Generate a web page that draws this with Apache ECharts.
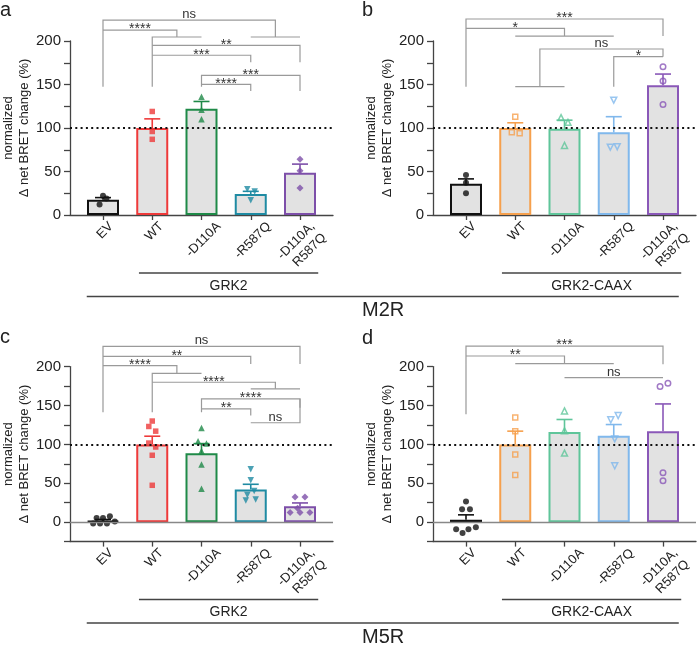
<!DOCTYPE html>
<html><head><meta charset="utf-8">
<script src="https://cdn.jsdelivr.net/npm/echarts@6/dist/echarts.min.js"></script>
<style>html,body{margin:0;padding:0;background:#fff}#c{width:700px;height:650px}</style>
</head><body><div id="c"></div>
<script>
// ---------------- data ----------------
const categories = ['EV', 'WT', '-D110A', '-R587Q', '-D110A,\nR587Q'];
const panelLetters = ['a', 'b', 'c', 'd'];
const groupLabels = ['GRK2', 'GRK2-CAAX'];
const receptorLabels = ['M2R', 'M5R'];
const yTickLabels = [0, 50, 100, 150, 200];
const yAxisName = 'normalized\nΔ net BRET change (%)';

// panel a: M2R, GRK2
const meanA = [17.5, 100, 122, 24, 48.5];
const semA = [2.5, 10.5, 8.5, 3.2, 10];
const ptsA = [
  [[0, 22], [0.07, 19], [-0.07, 12]],
  [[0, 119], [0, 96], [0, 87]],
  [[0, 136], [0, 121], [0, 110]],
  [[-0.07, 29.5], [0.08, 27], [0, 17]],
  [[0, 64], [0, 51], [0, 31]]
];
const sigA = [
  [0, 3.5, 224, 147.5, 204.6, 'ns'],
  [3, 4, 204.6, 204.6, 204.6, ''],
  [0, 1.5, 212.6, 212.6, 204.6, '****'],
  [1, 2, 204.6, 147.5, 204.6, ''],
  [1, 4, 195, 195, 175.5, '**'],
  [1, 3, 183.6, 183.6, 175.5, '***'],
  [2, 4, 160.6, 147.5, 142.5, '***'],
  [2, 3, 150.2, 150.2, 142.5, '****']
];

// panel b: M2R, GRK2-CAAX
const meanB = [36, 100, 99, 95, 149];
const semB = [5.5, 6, 10, 18, 13];
const ptsB = [
  [[0, 46], [0, 37], [0, 25]],
  [[0, 113], [-0.07, 95], [0.09, 94]],
  [[-0.07, 112], [0.07, 106.5], [0, 80]],
  [[0, 132], [-0.07, 78], [0.07, 78.5]],
  [[0, 170.5], [0, 154], [0, 127]]
];
const sigB = [
  [0, 4, 225.3, 147.5, 205.7, '***'],
  [0, 2, 214.6, 214.6, 205.7, '*'],
  [1, 3, 205.7, 205.7, 205.7, ''],
  [1.5, 4, 190.8, 147.5, 182, 'ns'],
  [1, 2, 147.5, 147.5, 147.5, ''],
  [3, 4, 182, 147.5, 182, '*']
];

// panel c: M5R, GRK2
const meanC = [1.5, 100, 88.5, 42, 20.5];
const semC = [2, 10.5, 12.5, 6.7, 4.2];
const ptsC = [
  [[0.14, 7.7], [-0.13, 5.5], [0, 5.5], [0.24, 1], [-0.2, -1.7], [-0.06, -1.7], [0.08, -1.7]],
  [[0, 130], [-0.07, 123], [0.07, 117], [-0.07, 101.7], [0.07, 96.6], [0, 86], [0, 47.4]],
  [[0, 121], [-0.07, 104], [0.1, 101], [0, 91.4], [0, 74], [0, 43]],
  [[0, 68], [0, 54], [0.07, 40], [-0.07, 35], [-0.1, 28], [0.1, 29]],
  [[-0.1, 32.5], [0.1, 32.5], [-0.05, 18], [-0.2, 12.5], [0, 12.5], [0.2, 12.5]]
];
const sigC = [
  [0, 4, 226, 141.4, 203.4, 'ns'],
  [0, 3, 213.2, 213.2, 203.4, '**'],
  [0, 1.5, 201.3, 201.3, 191.4, '****'],
  [1, 2, 191.4, 141.4, 191.4, ''],
  [1, 3.5, 179.9, 179.9, 171.4, '****'],
  [3, 4, 171.4, 171.4, 171.4, ''],
  [2, 4, 158.6, 141.4, 147, '****'],
  [2, 3, 145.7, 145.7, 137.2, '**'],
  [3, 4, 127.8, 127.8, 158.6, 'ns']
];

// panel d: M5R, GRK2-CAAX
const meanD = [3, 100, 116, 111, 117];
const semD = [6.4, 17, 16, 14.5, 35];
const ptsD = [
  [[0, 26.4], [-0.08, 16.7], [0.08, 16.7], [-0.2, -9], [0.05, -9], [0.2, -6.5], [-0.07, -14]],
  [[0, 134.6], [0, 117], [0, 87], [0, 60.6]],
  [[0, 143], [0, 117.4], [0, 88.8]],
  [[-0.06, 131.6], [0.09, 137], [0.02, 107], [0.02, 72.5]],
  [[-0.06, 174.4], [0.1, 178.6], [0, 63.6], [0, 53.3]]
];
const sigD = [
  [0, 4, 226.4, 138.8, 203, '***'],
  [0, 2, 213.6, 213.6, 203.8, '**'],
  [1, 3, 203.8, 203.8, 203.8, ''],
  [2, 4, 185.9, 185.9, 185.9, 'ns']
];

// ---------------- styles ----------------
const FONT = "'Liberation Sans', Arial, sans-serif";
const colorsGRK2 = ['#111111', '#ee3a3a', '#1f8a48', '#1f8ba3', '#7d4fa9'];
const colorsCAAX = ['#111111', '#f6a04d', '#5fc59a', '#80b8ec', '#8a58b8'];
const symFilled = [['circle', 0, 6], ['rect', 0, 5.5], ['triangle', 0, 6.5], ['triangle', 180, 6.5], ['diamond', 0, 7]];
const symHollow = [['circle', 0, 6], ['rect', 0, 5], ['triangle', 0, 6], ['triangle', 180, 6], ['circle', 0, 5.5]];
const BAR_FILL = '#e2e2e2';
const AX = '#444';
const LABEL_FS = 13, LABEL_LH = 16;

const panels = [
  { mean: meanA, sem: semA, pts: ptsA, sig: sigA, colors: colorsGRK2, hollow: false, ymin: 0, grid: { left: 70, top: 41, width: 263, height: 174 } },
  { mean: meanB, sem: semB, pts: ptsB, sig: sigB, colors: colorsCAAX, hollow: true, ymin: 0, grid: { left: 433, top: 41, width: 263, height: 174 } },
  { mean: meanC, sem: semC, pts: ptsC, sig: sigC, colors: colorsGRK2, hollow: false, ymin: -25, grid: { left: 70, top: 366.6, width: 263, height: 175 } },
  { mean: meanD, sem: semD, pts: ptsD, sig: sigD, colors: colorsCAAX, hollow: true, ymin: -25, grid: { left: 433, top: 366.6, width: 263, height: 175 } }
];

// width of each category label (longest line), for placing the 45° labels
const mctx = document.createElement('canvas').getContext('2d');
mctx.font = LABEL_FS + 'px ' + FONT;
const labelDims = categories.map(c => {
  const lines = c.split('\n');
  return { L: Math.max.apply(null, lines.map(t => mctx.measureText(t).width)), H: 9.5 + LABEL_LH * (lines.length - 1) };
});

const chart = echarts.init(document.getElementById('c'), null, { renderer: 'canvas' });

const grid = [], xAxis = [], yAxis = [], series = [];
const catIdx = categories.map((c, i) => i);

panels.forEach((p, i) => {
  grid.push(Object.assign({ containLabel: false, outerBoundsMode: 'none' }, p.grid));
  xAxis.push({
    gridIndex: i, type: 'value', min: -0.67, max: 4.67,
    axisLine: { show: true, onZero: false, lineStyle: { color: AX, width: 1.3 } },
    axisTick: { show: true, customValues: catIdx, length: 5, lineStyle: { color: AX, width: 1.3 } },
    axisLabel: { show: false },
    splitLine: { show: false }
  });
  yAxis.push({
    gridIndex: i, type: 'value', min: p.ymin, max: 200, interval: 25,
    axisLine: { show: true, onZero: false, lineStyle: { color: AX, width: 1.3 } },
    axisTick: { show: true, length: 6, lineStyle: { color: AX, width: 1.3 } },
    axisLabel: { formatter: v => yTickLabels.includes(v) ? String(v) : '', fontSize: 15, color: '#222', fontFamily: FONT, margin: 9 },
    splitLine: { show: false },
    name: yAxisName, nameLocation: 'middle', nameRotate: 90, nameGap: 30,
    nameTextStyle: { fontSize: 13, lineHeight: 16, color: '#222', fontFamily: FONT }
  });

  const mlData = [{ yAxis: 100, lineStyle: { type: [2, 3.3], color: '#111', width: 2 } }];
  if (p.ymin < 0) mlData.unshift({ yAxis: 0, lineStyle: { type: 'solid', color: '#888', width: 1.3 } });

  series.push({
    type: 'bar', xAxisIndex: i, yAxisIndex: i, barWidth: 32, z: 2,
    data: p.mean.map((v, k) => ({ value: [k, v], itemStyle: { color: BAR_FILL, borderColor: p.colors[k], borderWidth: 2 } })),
    markLine: { silent: true, symbol: 'none', label: { show: false }, data: mlData, z: 6 }
  });

  series.push({
    type: 'custom', xAxisIndex: i, yAxisIndex: i, z: 3,
    data: p.mean.map((v, k) => [k, v, p.sem[k]]),
    renderItem: (params, api) => {
      const x = api.value(0), m = api.value(1), s = api.value(2);
      const a = api.coord([x, m]), b = api.coord([x, m + s]);
      const col = p.colors[params.dataIndex];
      const st = { stroke: col, lineWidth: 1.6 };
      return { type: 'group', children: [
        { type: 'line', shape: { x1: a[0], y1: a[1], x2: b[0], y2: b[1] }, style: st },
        { type: 'line', shape: { x1: b[0] - 8, y1: b[1], x2: b[0] + 8, y2: b[1] }, style: st }
      ] };
    }
  });

  const sdata = [];
  p.pts.forEach((arr, k) => {
    const sy = (p.hollow ? symHollow : symFilled)[k];
    const col = p.colors[k];
    const hollow = p.hollow && k > 0;
    arr.forEach(pt => {
      sdata.push({
        value: [k + pt[0], pt[1]], symbol: sy[0], symbolRotate: sy[1], symbolSize: sy[2],
        itemStyle: hollow ? { color: 'rgba(255,255,255,0)', borderColor: col, borderWidth: 1.5 } : { color: col, borderWidth: 0 }
      });
    });
  });
  series.push({ type: 'scatter', xAxisIndex: i, yAxisIndex: i, z: 4, data: sdata, silent: true });

  // significance brackets
  series.push({
    type: 'custom', xAxisIndex: i, yAxisIndex: i, z: 5, clip: false, silent: true,
    data: p.sig.map(s => [s[0], s[2]]),
    renderItem: (params, api) => {
      const s = p.sig[params.dataIndex];
      const a = api.coord([s[0], s[2]]), b = api.coord([s[1], s[2]]);
      const a2 = api.coord([s[0], s[3]]), b2 = api.coord([s[1], s[4]]);
      const children = [{
        type: 'polyline', shape: { points: [a2, a, b, b2] },
        style: { stroke: '#9a9a9a', lineWidth: 1.2, fill: null }
      }];
      if (s[5]) {
        const isNs = s[5] === 'ns';
        children.push({
          type: 'text', x: (a[0] + b[0]) / 2, y: isNs ? a[1] + 1 : a[1] - 0.5,
          style: { text: s[5], fill: '#333', fontFamily: FONT, fontSize: isNs ? 13 : 14,
            align: 'center', verticalAlign: isNs ? 'bottom' : 'middle' }
        });
      }
      return { type: 'group', children };
    }
  });

  // category tick labels, rotated 45°, bounding box centred under each tick
  series.push({
    type: 'custom', xAxisIndex: i, yAxisIndex: i, z: 5, clip: false, silent: true,
    data: categories.map((c, k) => [k, p.ymin]),
    renderItem: (params, api) => {
      const k = params.dataIndex;
      const t = api.coord([api.value(0), api.value(1)]);
      const d = labelDims[k];
      const cx = t[0] + 2, cy = t[1] + 6 + 0.3536 * (d.L + d.H);
      const ax = cx + 0.3536 * d.L, ay = cy - 0.3536 * d.L;
      return {
        type: 'text', x: ax, y: ay, rotation: Math.PI / 4,
        style: { text: categories[k], fill: '#222', fontFamily: FONT, fontSize: LABEL_FS, lineHeight: LABEL_LH,
          align: 'right', verticalAlign: 'middle' }
      };
    }
  });
});

chart.setOption({ animation: false, backgroundColor: '#fff', textStyle: { fontFamily: FONT }, grid, xAxis, yAxis, series });

// ---------- group annotations under the axes ----------
const graphic = [];
const px = (gi, x) => chart.convertToPixel({ xAxisIndex: gi }, x);
const lineStyle = { stroke: '#444', lineWidth: 1.5 };
[[0, 1], [2, 3]].forEach((pair, row) => {
  const base = panels[pair[0]].grid.top + panels[pair[0]].grid.height;
  pair.forEach((gi, col) => {
    const x1 = px(gi, 0.73), x2 = px(gi, 4.37);
    graphic.push({ type: 'line', shape: { x1, y1: base + 58, x2, y2: base + 58 }, style: lineStyle });
    graphic.push({ type: 'text', x: (x1 + x2) / 2, y: base + 71, style: { text: groupLabels[col], fill: '#222', fontFamily: FONT, fontSize: 14, align: 'center', verticalAlign: 'middle' } });
  });
  const l1 = px(pair[0], -0.33), l2 = px(pair[1], 4.32);
  graphic.push({ type: 'line', shape: { x1: l1, y1: base + 81.5, x2: l2, y2: base + 81.5 }, style: lineStyle });
  graphic.push({ type: 'text', x: panels[pair[1]].grid.left - 71, y: base + 95.5, style: { text: receptorLabels[row], fill: '#222', fontFamily: FONT, fontSize: 20, align: 'left', verticalAlign: 'middle' } });
});
const letterPos = [[0, 10], [362, 10], [0, 337], [362, 338]];
panelLetters.forEach((t, i) => {
  graphic.push({ type: 'text', x: letterPos[i][0], y: letterPos[i][1], style: { text: t, fill: '#222', fontFamily: FONT, fontSize: 20, align: 'left', verticalAlign: 'middle' } });
});
chart.setOption({ graphic });
</script>
</body></html>
